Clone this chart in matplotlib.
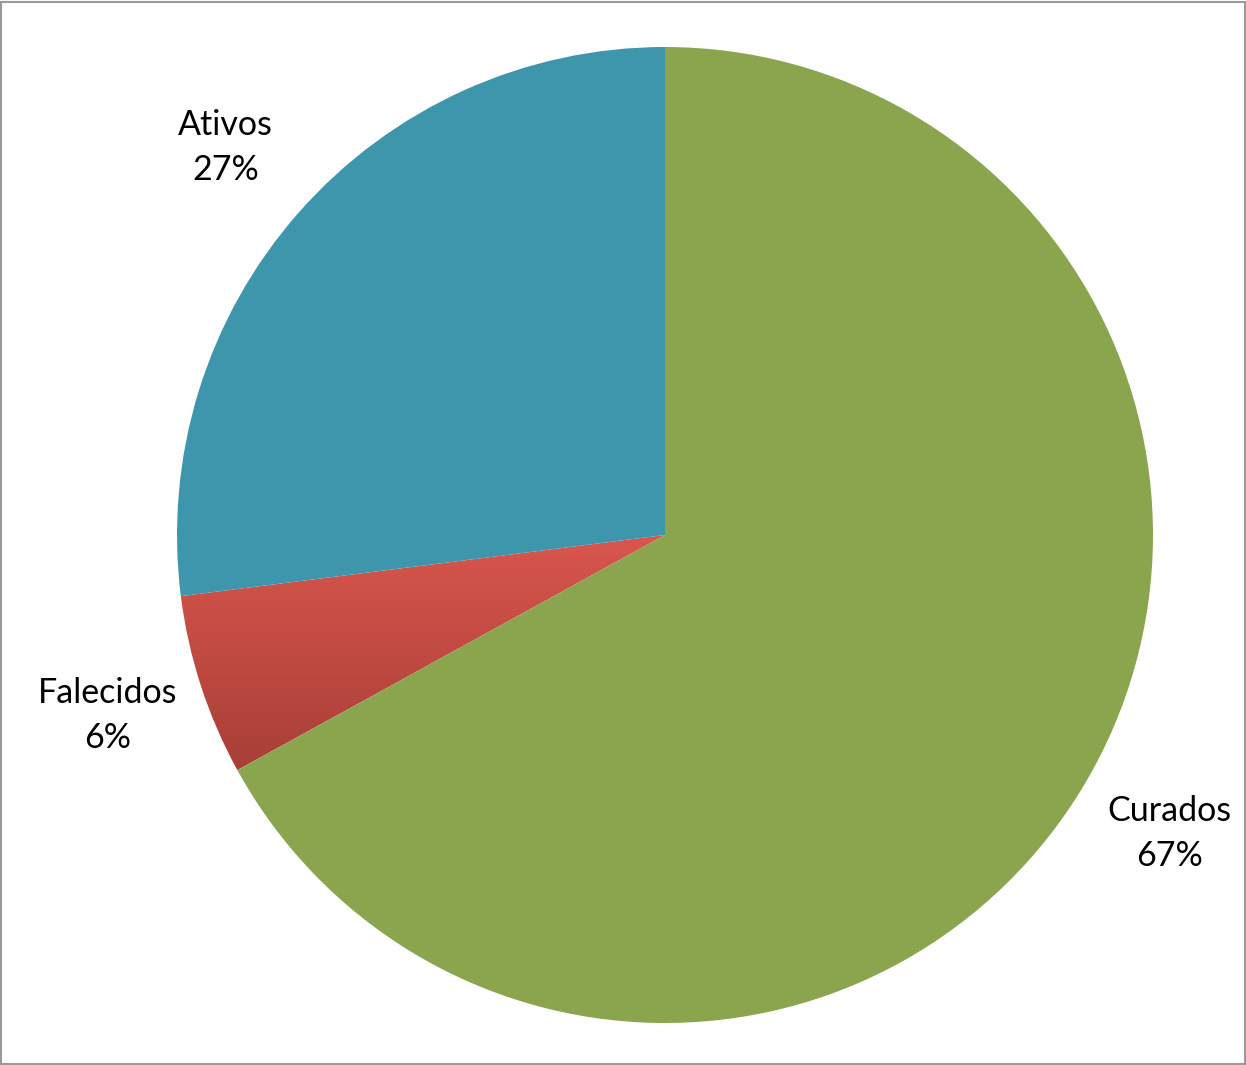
import numpy as np
import matplotlib
matplotlib.use("Agg")
import matplotlib.pyplot as plt
from matplotlib.patches import Rectangle
from matplotlib.colors import LinearSegmentedColormap

# data
labels = ["Curados", "Falecidos", "Ativos"]
values = [67, 6, 27]
colors = ["#8BA54F", "#D4524A", "#3E96AD"]

W, H = 1246, 1065
fig = plt.figure(figsize=(W / 100, H / 100), dpi=100)
ax = fig.add_axes([0, 0, 1, 1])

cx, cy, r = 665, H - 535, 488
wedges, _ = ax.pie(values, colors=colors, startangle=90, counterclock=False,
                   center=(cx, cy), radius=r, frame=False,
                   wedgeprops=dict(linewidth=0))

ax.set_xlim(0, W)
ax.set_ylim(0, H)
ax.set_aspect("equal")
ax.axis("off")

# darker gradient toward the bottom of the red slice
red = wedges[1]
red.set_facecolor("none")
bb = red.get_path().get_extents(red.get_transform() - ax.transData)
grad = np.linspace(0, 1, 256).reshape(-1, 1)
cmap = LinearSegmentedColormap.from_list("r", ["#A83F37", "#D9564D"])
im = ax.imshow(grad, cmap=cmap, origin="lower", aspect="auto",
               extent=(bb.x0, bb.x1, bb.y0, bb.y1), zorder=0.5)
im.set_clip_path(red)

total = sum(values)
for w, lab, v in zip(wedges, labels, values):
    ang = np.deg2rad((w.theta1 + w.theta2) / 2)
    d = r * 1.2
    ax.text(cx + d * np.cos(ang), cy + d * np.sin(ang),
            f"{lab}\n{round(100 * v / total)}%", ha="center", va="center",
            fontsize=24.5, family=["Lato", "DejaVu Sans"], linespacing=1.5,
            color="black")

fig.patches.append(Rectangle((0.5 / W, 1 / H), 1 - 2 / W, 1 - 2.5 / H,
                             transform=fig.transFigure, fill=False,
                             edgecolor="#9a9a9a", linewidth=1.5))

fig.savefig("out.png", dpi=100)
